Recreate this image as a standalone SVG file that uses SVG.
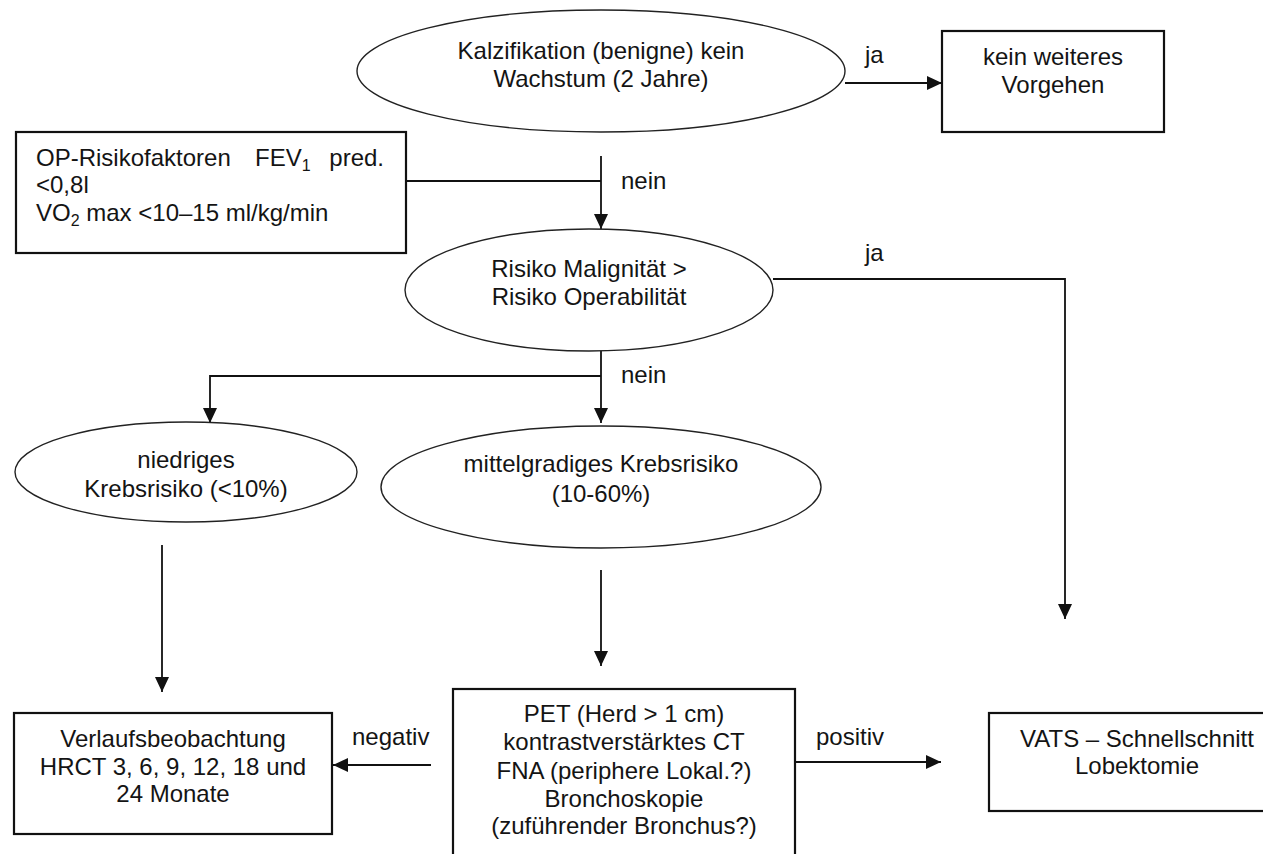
<svg xmlns="http://www.w3.org/2000/svg" width="1263" height="854" viewBox="0 0 1263 854">
<style>
text{font-family:"Liberation Sans",Arial,sans-serif;font-size:24px;fill:#141414}
.c{text-anchor:middle}
.box{fill:#fff;stroke:#111;stroke-width:2.2}
.ell{fill:#fff;stroke:#222;stroke-width:1.4}
.ln{fill:none;stroke:#111;stroke-width:1.8}
.sub{font-size:16px}
</style>
<defs>
<marker id="ah" viewBox="0 0 15 14" refX="15" refY="7" markerWidth="15" markerHeight="14" markerUnits="userSpaceOnUse" orient="auto">
<path d="M0,0 L15,7 L0,14 z" fill="#111"/>
</marker>
</defs>
<rect width="1263" height="854" fill="#fff"/>
<g id="connectors">
<path class="ln" d="M845,83 H942" marker-end="url(#ah)"/>
<path class="ln" d="M406,181 H601"/>
<path class="ln" d="M601,156 V229" marker-end="url(#ah)"/>
<path class="ln" d="M773,279 H1065 V619" marker-end="url(#ah)"/>
<path class="ln" d="M601,351 V423" marker-end="url(#ah)"/>
<path class="ln" d="M601,376 H210 V423" marker-end="url(#ah)"/>
<path class="ln" d="M162,545 V692" marker-end="url(#ah)"/>
<path class="ln" d="M601,570 V666" marker-end="url(#ah)"/>
<path class="ln" d="M431,765 H333" marker-end="url(#ah)"/>
<path class="ln" d="M795,762 H941" marker-end="url(#ah)"/>
<text x="865" y="63">ja</text>
<text x="621" y="189">nein</text>
<text x="865" y="261">ja</text>
<text x="621" y="383">nein</text>
<text x="352" y="745">negativ</text>
<text x="816" y="745">positiv</text>
</g>
<g id="n-kalz">
<ellipse class="ell" cx="601" cy="71" rx="244" ry="61"/>
<text class="c" x="601" y="59">Kalzifikation (benigne) kein</text>
<text class="c" x="601" y="87">Wachstum (2 Jahre)</text>
</g>
<g id="n-kein">
<rect class="box" x="942" y="31" width="222" height="101"/>
<text class="c" x="1053" y="65">kein weiteres</text>
<text class="c" x="1053" y="93">Vorgehen</text>
</g>
<g id="n-op">
<rect class="box" x="16" y="132" width="390" height="121"/>
<text x="36" y="166">OP-Risikofaktoren</text>
<text x="255" y="166">FEV<tspan class="sub" dy="5">1</tspan></text>
<text x="384" y="166" text-anchor="end">pred.</text>
<text x="36" y="193">&lt;0,8l</text>
<text x="36" y="221">VO<tspan class="sub" dy="5">2</tspan><tspan dy="-5"> max &lt;10–15 ml/kg/min</tspan></text>
</g>
<g id="n-risiko">
<ellipse class="ell" cx="589" cy="290" rx="184" ry="61"/>
<text class="c" x="589" y="277">Risiko Malignität &gt;</text>
<text class="c" x="589" y="305">Risiko Operabilität</text>
</g>
<g id="n-niedrig">
<ellipse class="ell" cx="186" cy="472" rx="171" ry="50"/>
<text class="c" x="186" y="468">niedriges</text>
<text class="c" x="186" y="497">Krebsrisiko (&lt;10%)</text>
</g>
<g id="n-mittel">
<ellipse class="ell" cx="601" cy="487" rx="220" ry="61"/>
<text class="c" x="601" y="472">mittelgradiges Krebsrisiko</text>
<text class="c" x="601" y="502">(10-60%)</text>
</g>
<g id="n-verlauf">
<rect class="box" x="14" y="713" width="318" height="121"/>
<text class="c" x="173" y="747">Verlaufsbeobachtung</text>
<text class="c" x="173" y="775">HRCT 3, 6, 9, 12, 18 und</text>
<text class="c" x="173" y="802">24 Monate</text>
</g>
<g id="n-pet">
<rect class="box" x="453" y="689" width="342" height="180"/>
<text class="c" x="624" y="722">PET (Herd &gt; 1 cm)</text>
<text class="c" x="624" y="750">kontrastverstärktes CT</text>
<text class="c" x="624" y="779">FNA (periphere Lokal.?)</text>
<text class="c" x="624" y="807">Bronchoskopie</text>
<text class="c" x="624" y="834">(zuführender Bronchus?)</text>
</g>
<g id="n-vats">
<rect class="box" x="989" y="713" width="296" height="98"/>
<text class="c" x="1137" y="747">VATS – Schnellschnitt</text>
<text class="c" x="1137" y="774">Lobektomie</text>
</g>
</svg>
